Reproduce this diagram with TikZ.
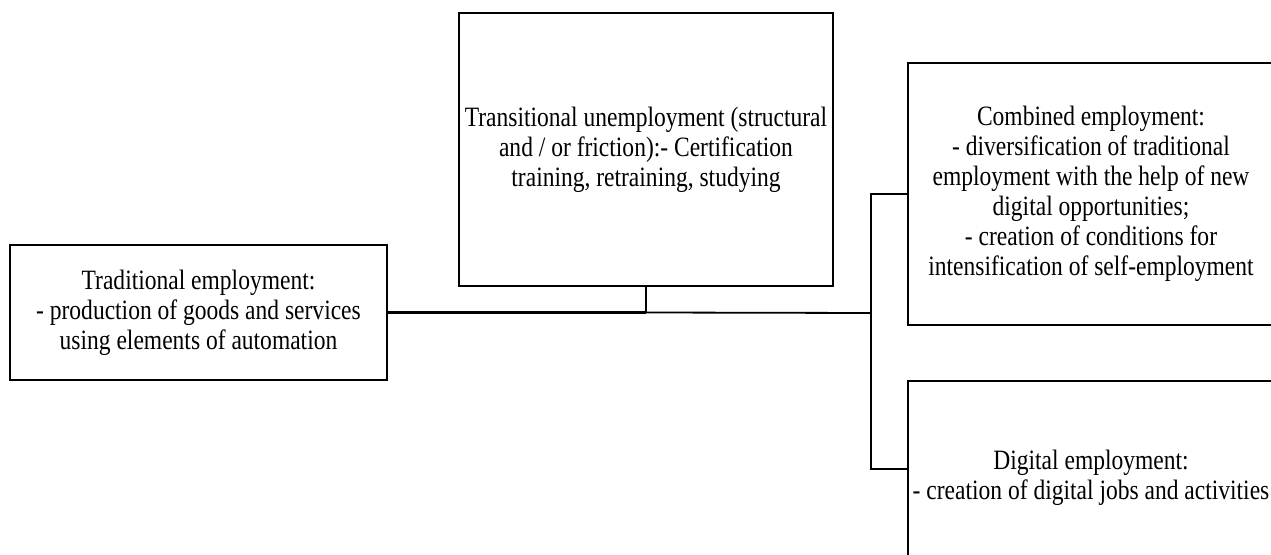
\documentclass[tikz,border=0pt]{standalone}
\usepackage{fontspec}
\setmainfont{Liberation Serif}[FakeStretch=0.84]
\usepackage{tikz}
\usetikzlibrary{calc}

\begin{document}
\begin{tikzpicture}[x=0.5pt,y=-0.5pt,
    box/.style={draw, line width=1.2pt, align=center, inner sep=0pt,
      font=\fontsize{14}{15}\selectfont},
    link/.style={line width=0.9pt}]
			\useasboundingbox (0,0) rectangle (1271,555);

			% Boxes
			\node[box, minimum width=188.5pt, minimum height=67.5pt] (trad) at (198.5,312.5)
				{Traditional employment:\\- production of goods and services\\using elements of automation};
			\node[box, minimum width=187pt, minimum height=136.5pt] (trans) at (646,149.5)
				{Transitional unemployment (structural\\and / or friction):- Certification\\training, retraining, studying};
			\node[box, minimum width=183pt, minimum height=131pt] (comb) at (1091,194)
				{Combined employment:\\- diversification of traditional\\employment with the help of new\\digital opportunities;\\- creation of conditions for\\intensification of self-employment};
			\node[box, minimum width=183pt, minimum height=97pt] (digi) at (1091,478)
				{Digital employment:\\- creation of digital jobs and activities};

			% Connectors
			\coordinate (split) at (871,313);
			\draw[line width=1.6pt] (trad.east) -- (trans.south |- trad.east);
			\draw[link] (trans.south |- trad.east) -- (split);
			\draw[link] (trans.south) -- (trans.south |- trad.east);
			\draw[link] (comb.west) -| (split) |- ([yshift=4.5pt]digi.west);
		\end{tikzpicture}
\end{document}
